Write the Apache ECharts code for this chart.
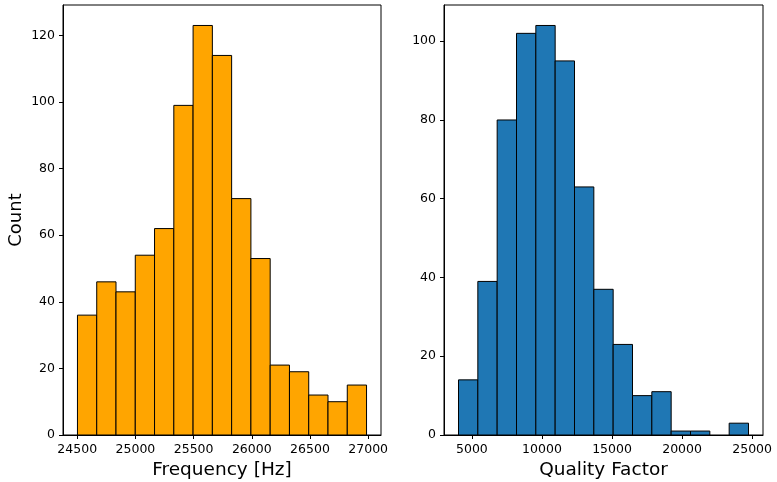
<!DOCTYPE html>
<html>
<head>
<meta charset="utf-8">
<script src="https://cdn.jsdelivr.net/npm/echarts@6/dist/echarts.min.js"></script>
<style>html,body{margin:0;padding:0;background:#fff}#c{width:777px;height:482px}</style>
</head>
<body>
<div id="c"></div>
<script>
// Frequency histogram
const freqMin = 24502, freqMax = 26986;
const freqCounts = [36, 46, 43, 54, 62, 99, 123, 114, 71, 53, 21, 19, 12, 10, 15];
const freqTicks = [24500, 25000, 25500, 26000, 26500, 27000];
const freqYTicks = [0, 20, 40, 60, 80, 100, 120];
// Quality factor histogram
const qMin = 4045, qMax = 24740;
const qCounts = [14, 39, 80, 102, 104, 95, 63, 37, 23, 10, 11, 1, 1, 0, 3];
const qTicks = [5000, 10000, 15000, 20000, 25000];
const qYTicks = [0, 20, 40, 60, 80, 100];

function binData(lo, hi, counts) {
  const n = counts.length, w = (hi - lo) / n;
  return counts.map((c, i) => [lo + i * w, lo + (i + 1) * w, c]);
}
const freqBins = binData(freqMin, freqMax, freqCounts);
const qBins = binData(qMin, qMax, qCounts);

const font = 'DejaVu Sans';
function renderBar(color) {
  return function (params, api) {
    if (api.value(2) <= 0) return null;
    const p0 = api.coord([api.value(0), api.value(2)]);
    const p1 = api.coord([api.value(1), 0]);
    return {
      type: 'rect',
      shape: { x: p0[0], y: p0[1], width: p1[0] - p0[0], height: p1[1] - p0[1] },
      style: { fill: color, stroke: '#000', lineWidth: 1 }
    };
  };
}
function xAxis(idx, lo, hi, ticks, name) {
  const pad = (hi - lo) * 0.05;
  return {
    type: 'value', gridIndex: idx, min: lo - pad, max: hi + pad,
    name: name, nameLocation: 'middle', nameGap: 25,
    nameTextStyle: { fontFamily: font, fontSize: 18.5, color: '#000' },
    axisLine: { show: true, lineStyle: { color: '#000', width: 1 } },
    axisTick: { show: true, length: 4, inside: false, customValues: ticks, lineStyle: { color: '#000', width: 1 } },
    axisLabel: { customValues: ticks, margin: 8, fontFamily: font, fontSize: 12.5, color: '#000', formatter: v => String(v) },
    splitLine: { show: false }
  };
}
function yAxis(idx, counts, ticks, name) {
  const mx = Math.max.apply(null, counts) * 1.05;
  return {
    type: 'value', gridIndex: idx, min: 0, max: mx,
    name: name, nameLocation: 'middle', nameGap: 38, nameRotate: 90,
    nameTextStyle: { fontFamily: font, fontSize: 18, color: '#000' },
    axisLine: { show: true, lineStyle: { color: '#000', width: 1 } },
    axisTick: { show: true, length: 4, customValues: ticks, lineStyle: { color: '#000', width: 1 } },
    axisLabel: { customValues: ticks, margin: 8, fontFamily: font, fontSize: 12.5, color: '#000', formatter: v => String(v) },
    splitLine: { show: false }
  };
}

const chart = echarts.init(document.getElementById('c'), null, { renderer: 'canvas' });
chart.setOption({
  animation: false,
  backgroundColor: '#fff',
  grid: [
    { left: 63, top: 5, width: 318, height: 430, containLabel: false, outerBoundsMode: 'none', show: true, borderColor: '#000', borderWidth: 1, backgroundColor: 'transparent' },
    { left: 444, top: 5, width: 319, height: 430, containLabel: false, outerBoundsMode: 'none', show: true, borderColor: '#000', borderWidth: 1, backgroundColor: 'transparent' }
  ],
  xAxis: [
    xAxis(0, freqMin, freqMax, freqTicks, 'Frequency [Hz]'),
    xAxis(1, qMin, qMax, qTicks, 'Quality Factor')
  ],
  yAxis: [
    yAxis(0, freqCounts, freqYTicks, 'Count'),
    yAxis(1, qCounts, qYTicks, '')
  ],
  series: [
    { type: 'custom', xAxisIndex: 0, yAxisIndex: 0, data: freqBins, renderItem: renderBar('#FFA500'), encode: { x: [0, 1], y: 2 } },
    { type: 'custom', xAxisIndex: 1, yAxisIndex: 1, data: qBins, renderItem: renderBar('#1F77B4'), encode: { x: [0, 1], y: 2 } }
  ]
});
</script>
</body>
</html>
